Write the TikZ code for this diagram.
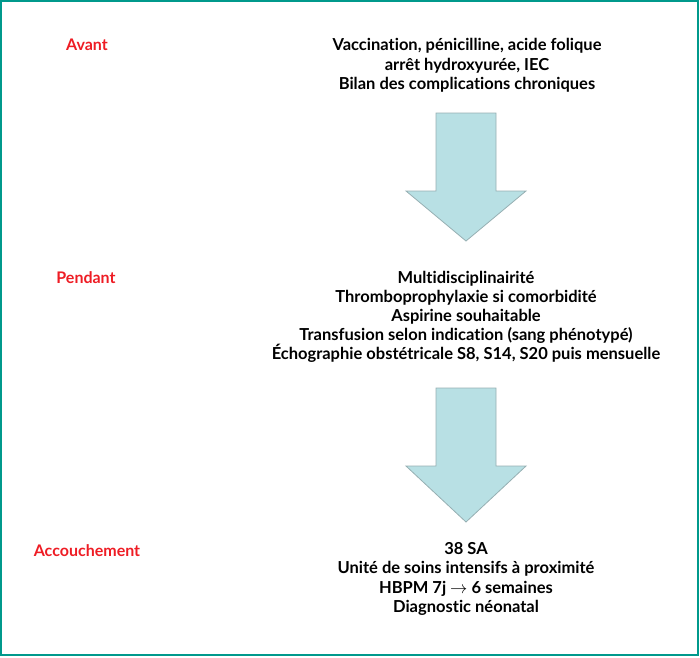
\documentclass[tikz,border=0pt]{standalone}
\usepackage{fontspec}
\setmainfont[Ligatures=NoCommon]{Lato}
\begin{document}
\begin{tikzpicture}[x=1pt,y=-1pt,
  lab/.style={text=phasered,font=\fontsize{16}{19}\selectfont\bfseries,inner sep=0pt,anchor=base},
  row/.style={font=\fontsize{16.5}{19}\selectfont\bfseries,inner sep=0pt,text=black,anchor=base},
  bigarrow/.style={fill=arrowfill,draw=arrowline,line width=0.8pt,line join=miter}]
\definecolor{phasered}{RGB}{238,28,36}
\definecolor{framecol}{RGB}{0,153,140}
\definecolor{arrowfill}{RGB}{184,224,228}
\definecolor{arrowline}{RGB}{150,175,178}
\useasboundingbox (0,0) rectangle (700,657);
\draw[framecol,line width=2pt] (1,1) rectangle (698,655);
\node[lab] (avant) at (87,50.5) {Avant};
\node[lab] (pendant) at (86,283.5) {Pendant};
\node[lab] (accouchement) at (87,556.5) {Accouchement};
\node[row] (a1) at (467,50.5) {Vaccination, pénicilline, acide folique};
\node[row] (a2) at (467,70) {arrêt hydroxyurée, IEC};
\node[row] (a3) at (467,89.5) {Bilan des complications chroniques};
\node[row] (p1) at (466,283.5) {Multidisciplinairité};
\node[row] (p2) at (466,302.5) {Thromboprophylaxie si comorbidité};
\node[row] (p3) at (466,321.5) {Aspirine souhaitable};
\node[row] (p4) at (466,340.5) {Transfusion selon indication (sang phénotypé)};
\node[row] (p5) at (466,359.5) {Échographie obstétricale S8, S14, S20 puis mensuelle};
\node[row] (c1) at (466,554.5) {38 SA};
\node[row] (c2) at (466,573.5) {Unité de soins intensifs à proximité};
\node[row] (c3) at (466,593) {HBPM 7j $\rightarrow$ 6 semaines};
\node[row] (c4) at (466,612.5) {Diagnostic néonatal};
\draw[bigarrow] (436,113) -- (496,113) -- (496,191) -- (526,191) -- (466,241) -- (406,191) -- (436,191) -- cycle;
\draw[bigarrow] (436,388) -- (496,388) -- (496,466) -- (526,466) -- (466,522) -- (406,466) -- (436,466) -- cycle;
\end{tikzpicture}
\end{document}
